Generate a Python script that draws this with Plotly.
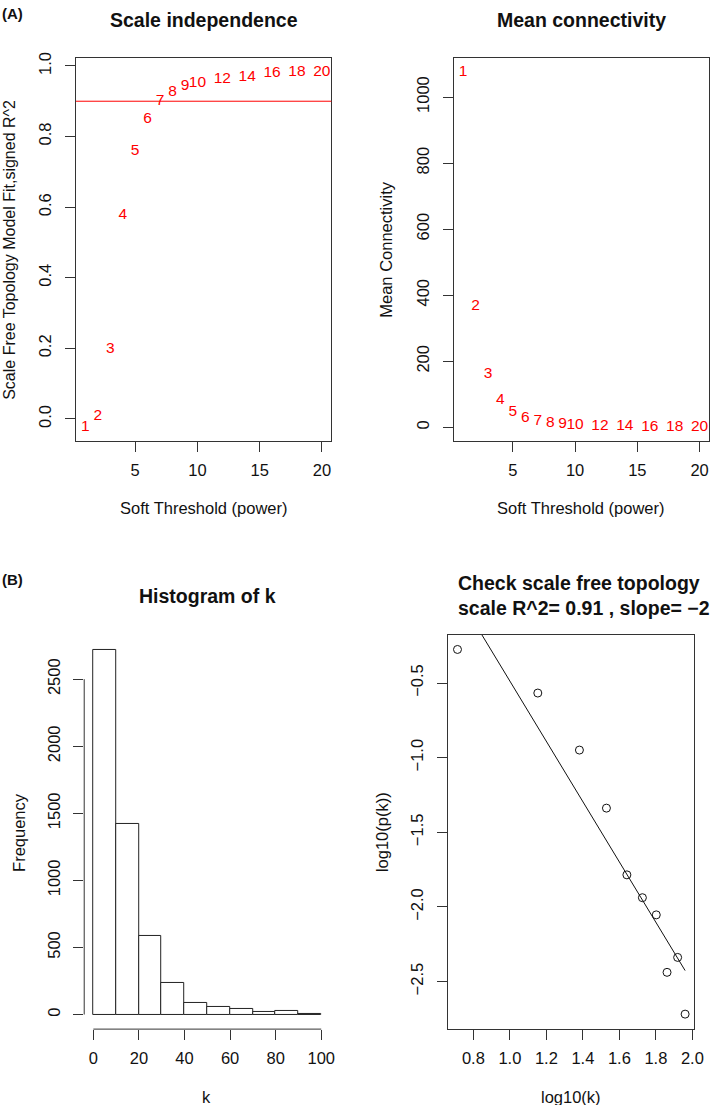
import plotly.graph_objects as go

# ---------------- data ----------------
powers = [1, 2, 3, 4, 5, 6, 7, 8, 9, 10, 12, 14, 16, 18, 20]
sft_r2 = [-0.023, 0.007, 0.197, 0.576, 0.759, 0.850, 0.900, 0.925, 0.943, 0.951,
          0.963, 0.969, 0.979, 0.983, 0.981]
mean_k = [1076, 368, 162, 83.5, 46, 29, 19, 13, 9, 7, 4, 2.5, 1.6, 1.0, 0.7]
r2_cut = 0.9

hist_edges = [0, 10, 20, 30, 40, 50, 60, 70, 80, 90, 100]
hist_counts = [2721, 1419, 587, 235, 86, 54, 45, 17, 25, 5]

log_k = [0.713, 1.153, 1.381, 1.529, 1.641, 1.726, 1.802, 1.861, 1.919, 1.960]
log_pk = [-0.275, -0.567, -0.949, -1.338, -1.785, -1.938, -2.053, -2.438, -2.338, -2.718]
fit_intercept = 1.533
fit_slope = -2.02

ticks_a1_x = [5, 10, 15, 20]
ticks_a1_y = [0.0, 0.2, 0.4, 0.6, 0.8, 1.0]
ticks_a2_y = [0, 200, 400, 600, 800, 1000]
ticks_b1_x = [0, 20, 40, 60, 80, 100]
ticks_b1_y = [0, 500, 1000, 1500, 2000, 2500]
ticks_b2_x = [0.8, 1.0, 1.2, 1.4, 1.6, 1.8, 2.0]
ticks_b2_y = [-2.5, -2.0, -1.5, -1.0, -0.5]

# ---------------- helpers ----------------
W, H = 720, 1105
FONT = "Liberation Sans, Arial, Helvetica, sans-serif"
AX = "#333333"


def px_x(p):
    return p / W


def px_y(p):
    return 1 - p / H


def rpad(lo, hi):
    d = (hi - lo) * 0.04
    return [lo - d, hi + d]


def dom(x0, x1, y0, y1):
    return [px_x(x0), px_x(x1)], [px_y(y1), px_y(y0)]


fig = go.Figure()

# Panel A1: scale independence
fig.add_trace(go.Scatter(x=powers, y=sft_r2, mode="text", text=[str(p) for p in powers],
                         textposition="middle center",
                         textfont=dict(color="#ff0000", size=15.5, family=FONT),
                         xaxis="x", yaxis="y", showlegend=False, hoverinfo="skip"))
# Panel A2: mean connectivity
fig.add_trace(go.Scatter(x=powers, y=mean_k, mode="text", text=[str(p) for p in powers],
                         textposition="middle center",
                         textfont=dict(color="#ff0000", size=15.5, family=FONT),
                         xaxis="x2", yaxis="y2", showlegend=False, hoverinfo="skip"))
# Panel B1: histogram
mids = [(hist_edges[i] + hist_edges[i + 1]) / 2 for i in range(len(hist_counts))]
widths = [hist_edges[i + 1] - hist_edges[i] for i in range(len(hist_counts))]
fig.add_trace(go.Bar(x=mids, y=hist_counts, width=widths,
                     marker=dict(color="white", line=dict(color="#222222", width=1)),
                     xaxis="x3", yaxis="y3", showlegend=False, hoverinfo="skip"))
# Panel B2: scale free check
fig.add_trace(go.Scatter(x=log_k, y=log_pk, mode="markers",
                         marker=dict(symbol="circle-open", size=8, color="#111111",
                                     line=dict(width=1, color="#111111")),
                         xaxis="x4", yaxis="y4", showlegend=False, hoverinfo="skip"))
fx = [min(log_k), max(log_k)]
fy = [fit_intercept + fit_slope * v for v in fx]
fig.add_trace(go.Scatter(x=fx, y=fy, mode="lines", line=dict(color="#111111", width=1),
                         xaxis="x4", yaxis="y4", showlegend=False, hoverinfo="skip"))


def axis(domain, rng, tickvals, ticktext=None, box=True, angle=0, anchor=None, standoff=4):
    d = dict(domain=domain, range=rng, tickmode="array", tickvals=tickvals,
             ticks="outside", ticklen=10, tickwidth=1, tickcolor=AX,
             showgrid=False, zeroline=False, showline=box, mirror=box,
             linecolor=AX, linewidth=1,
             tickfont=dict(size=16.5, family=FONT, color="#111111"),
             tickangle=angle, ticklabelstandoff=standoff, fixedrange=True)
    if ticktext is not None:
        d["ticktext"] = ticktext
    if anchor:
        d["anchor"] = anchor
    return d


dA1x, dA1y = dom(77, 336, 52, 437.7)
dA2x, dA2y = dom(460, 719, 52, 437.7)
dB1x, dB1y = dom(85.4, 335, 632.4, 1028.7)
dB2x, dB2y = dom(454.7, 704, 632.3, 1028.3)

fig.update_layout(
    width=W, height=H, margin=dict(l=0, r=0, t=0, b=0),
    paper_bgcolor="white", plot_bgcolor="white",
    font=dict(family=FONT, color="#111111"),
    bargap=0,
    xaxis=axis(dA1x, rpad(min(powers), max(powers)), ticks_a1_x, anchor="y"),
    yaxis=axis(dA1y, rpad(min(sft_r2), max(sft_r2)), ticks_a1_y,
               [f"{v:.1f}" for v in ticks_a1_y], angle=-90, anchor="x", standoff=7),
    xaxis2=axis(dA2x, rpad(min(powers), max(powers)), ticks_a1_x, anchor="y2"),
    yaxis2=axis(dA2y, rpad(min(mean_k), max(mean_k)), ticks_a2_y, angle=-90, anchor="x2",
                standoff=7),
    xaxis3=axis(dB1x, rpad(hist_edges[0], hist_edges[-1]), ticks_b1_x, box=False, anchor="y3"),
    yaxis3=axis(dB1y, rpad(0, max(hist_counts)), ticks_b1_y, box=False, angle=-90, anchor="x3",
                standoff=7),
    xaxis4=axis(dB2x, rpad(min(log_k), max(log_k)), ticks_b2_x,
                [f"{v:.1f}" for v in ticks_b2_x], anchor="y4"),
    yaxis4=axis(dB2y, rpad(min(log_pk), max(log_pk)), ticks_b2_y,
                [f"\u2212{abs(v):.1f}" for v in ticks_b2_y], angle=-90, anchor="x4",
                standoff=8),
)

shapes = [
    dict(type="line", xref="x domain", yref="y", x0=0, x1=1, y0=r2_cut, y1=r2_cut,
         line=dict(color="#ff0000", width=1)),
    dict(type="line", xref="x3 domain", yref="y3", x0=0, x1=0,
         y0=ticks_b1_y[0], y1=ticks_b1_y[-1], line=dict(color=AX, width=1)),
    dict(type="line", xref="x3", yref="y3 domain", x0=ticks_b1_x[0], x1=ticks_b1_x[-1],
         y0=0, y1=0, line=dict(color=AX, width=1)),
]
fig.update_layout(shapes=shapes)


def ann(text, x, y, size=16.5, bold=False, angle=0, xanchor="center", align="center"):
    t = f"<b>{text}</b>" if bold else text
    return dict(text=t, x=px_x(x), y=px_y(y), xref="paper", yref="paper",
                showarrow=False, xanchor=xanchor, yanchor="middle", textangle=angle,
                align=align, font=dict(size=size, family=FONT, color="#111111"))


annotations = [
    ann("(A)", 0, 8, size=15, bold=True, xanchor="left"),
    ann("(B)", 0, 576.7, size=15, bold=True, xanchor="left"),
    ann("Scale independence", 206.5, 14, size=19.5, bold=True),
    ann("Mean connectivity", 589.5, 14, size=19.5, bold=True),
    ann("Histogram of k", 210, 593, size=19.5, bold=True),
    ann("Check scale free topology<br>scale R^2= 0.91 , slope= \u22122", 462, 593,
        size=19.5, bold=True, xanchor="left", align="left"),
    ann("Soft Threshold (power)", 206.5, 505),
    ann("Soft Threshold (power)", 589, 505),
    ann("Scale Free Topology Model Fit,signed R^2", 9.5, 244.8, size=16, angle=-90),
    ann("Mean Connectivity", 391.7, 244.8, angle=-90),
    ann("Frequency", 19.2, 830.5, angle=-90),
    ann("k", 209, 1096.7),
    ann("log10(p(k))", 386.7, 830.3, angle=-90),
    ann("log10(k)", 579, 1096.7),
]
fig.update_layout(annotations=annotations)

fig.write_html("out.html", config={"displayModeBar": False},
               post_script="document.body.style.margin='0';document.body.style.padding='0';")
